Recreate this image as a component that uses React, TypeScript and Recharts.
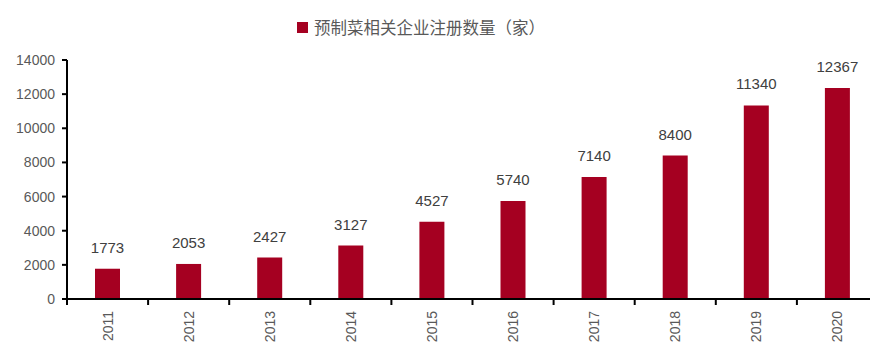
import React from 'react';
import { BarChart, Bar, XAxis, YAxis, Legend, LabelList } from 'recharts';

const years = ['2011', '2012', '2013', '2014', '2015', '2016', '2017', '2018', '2019', '2020'];
const registrations = [1773, 2053, 2427, 3127, 4527, 5740, 7140, 8400, 11340, 12367];
const yTicks = [0, 2000, 4000, 6000, 8000, 10000, 12000, 14000];

const seriesName = '预制菜相关企业注册数量（家）';
const barColor = '#A50021';
const textColor = '#595959';
const numFont = '"Liberation Sans", Arial, sans-serif';

const data = years.map((y, i) => ({ year: y, value: registrations[i] }));

const BAND = 81.1;

function YearTick(props: any) {
  const { x, y, payload } = props;
  const left = x - BAND / 2;
  return (
    <g>
      <line x1={left} x2={left} y1={y - 8} y2={y - 2} stroke="#000" strokeWidth={2} />
      <text
        transform={`translate(${x + 5},${y + 4}) rotate(-90)`}
        textAnchor="end"
        fill={textColor}
        fontSize={14}
        fontFamily={numFont}
      >
        {payload.value}
      </text>
    </g>
  );
}

function LegendContent() {
  return (
    <div style={{ display: 'flex', alignItems: 'center', justifyContent: 'center', height: 24 }}>
      <span style={{ width: 11, height: 11, background: barColor, display: 'inline-block', marginRight: 6 }} />
      <span
        style={{
          fontFamily: '"Noto Sans CJK SC", sans-serif',
          fontSize: 16.5,
          color: textColor,
          lineHeight: '24px',
        }}
      >
        {seriesName}
      </span>
    </div>
  );
}

export default function App() {
  return (
    <div style={{ position: 'absolute', left: 0, top: 0, width: 870, height: 354, overflow: 'hidden', background: '#fff' }}>
      <BarChart width={880} height={354} data={data} margin={{ top: 36, right: 2, bottom: 0, left: 0 }}>
        <Legend verticalAlign="top" align="center" content={<LegendContent />} wrapperStyle={{ top: 15, left: 0, width: 842 }} />
        <YAxis
          domain={[0, 14000]}
          ticks={yTicks}
          width={67}
          axisLine={{ stroke: '#000', strokeWidth: 2 }}
          tickLine={{ stroke: '#000', strokeWidth: 2 }}
          tickSize={5}
          tickMargin={7}
          tick={{ fill: textColor, fontSize: 14, fontFamily: numFont }}
          interval={0}
        />
        <XAxis
          dataKey="year"
          height={55}
          axisLine={{ stroke: '#000', strokeWidth: 2 }}
          tickLine={false}
          interval={0}
          tick={<YearTick />}
        />
        <Bar dataKey="value" name={seriesName} fill={barColor} barSize={25} isAnimationActive={false}>
          <LabelList
            dataKey="value"
            position="top"
            offset={16}
            fill="#404040"
            fontSize={15}
            fontFamily={numFont}
          />
        </Bar>
      </BarChart>
    </div>
  );
}
